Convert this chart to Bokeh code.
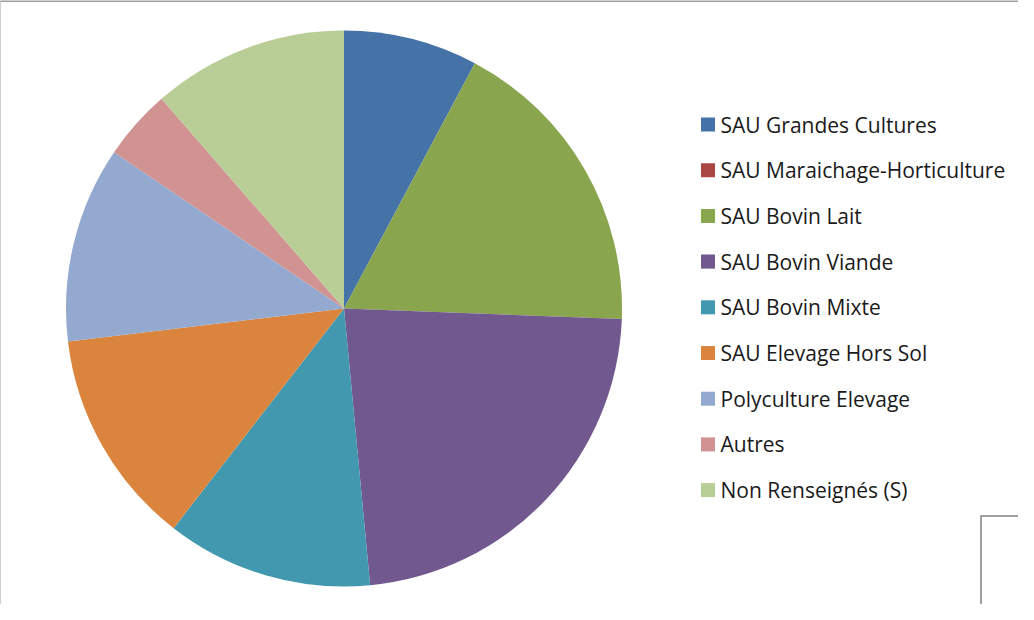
import numpy as np
from bokeh.plotting import figure
from bokeh.models import Range1d, ColumnDataSource
from bokeh.core.properties import value
from bokeh.embed import file_html
from bokeh.resources import INLINE

categories = [
    "SAU Grandes Cultures",
    "SAU Maraichage-Horticulture",
    "SAU Bovin Lait",
    "SAU Bovin Viande",
    "SAU Bovin Mixte",
    "SAU Elevage Hors Sol",
    " Polyculture Elevage",
    "Autres",
    "Non Renseignés (S)",
]
shares = [7.8, 0.0, 17.8, 22.9, 12.0, 12.6, 11.4, 4.1, 11.4]
colors = ["#4572A7", "#AA4643", "#89A54E", "#71588F", "#4198AF",
          "#DB843D", "#93A9CF", "#D19392", "#B9CD96"]

W, H = 1018, 604
p = figure(width=W, height=H, output_backend="svg", toolbar_location=None,
           x_range=Range1d(0, W), y_range=Range1d(0, H), min_border=0)
p.axis.visible = False
p.grid.visible = False
p.outline_line_color = None
p.background_fill_color = "white"
p.border_fill_color = "white"

# screen -> data helpers (page offset 8px)
def sx(x):
    return x - 8
def sy(y):
    return H + 8 - y

cx, cy, r = sx(351.5), sy(316), 278
vals = np.array(shares, dtype=float)
frac = vals / vals.sum() * 2 * np.pi
ends = np.cumsum(frac)
starts = ends - frac
keep = vals > 0
src = ColumnDataSource(dict(
    start=(np.pi / 2 - starts)[keep],
    end=(np.pi / 2 - ends)[keep],
    color=[c for c, k in zip(colors, keep) if k],
))
p.wedge(x=cx, y=cy, radius=r, start_angle="start", end_angle="end",
        direction="clock", fill_color="color", line_color=None, source=src)

# legend
n = len(categories)
row_y = [sy(132 + i * 45.7) for i in range(n)]
p.rect(x=[sx(715.5)] * n, y=row_y, width=14, height=14,
       fill_color=colors, line_color=None)
p.text(x=[sx(728)] * n, y=row_y, text=categories,
       text_font=value("Open Sans"), text_font_size="21px",
       text_color="#1a1a1a", text_baseline="middle", text_align="left")

# chart frame lines
gray = "#a0a0a0"
p.line(x=[sx(7.5), sx(7.5)], y=[sy(8), sy(625)], line_color=gray, line_width=2)
p.line(x=[sx(7), sx(1040)], y=[sy(8.5), sy(8.5)], line_color=gray, line_width=2)
p.line(x=[sx(988.5), sx(988.5)], y=[sy(523), sy(625)], line_color=gray, line_width=2)
p.line(x=[sx(988), sx(1040)], y=[sy(523.5), sy(523.5)], line_color=gray, line_width=2)

open("out.html", "w").write(file_html(p, INLINE))
